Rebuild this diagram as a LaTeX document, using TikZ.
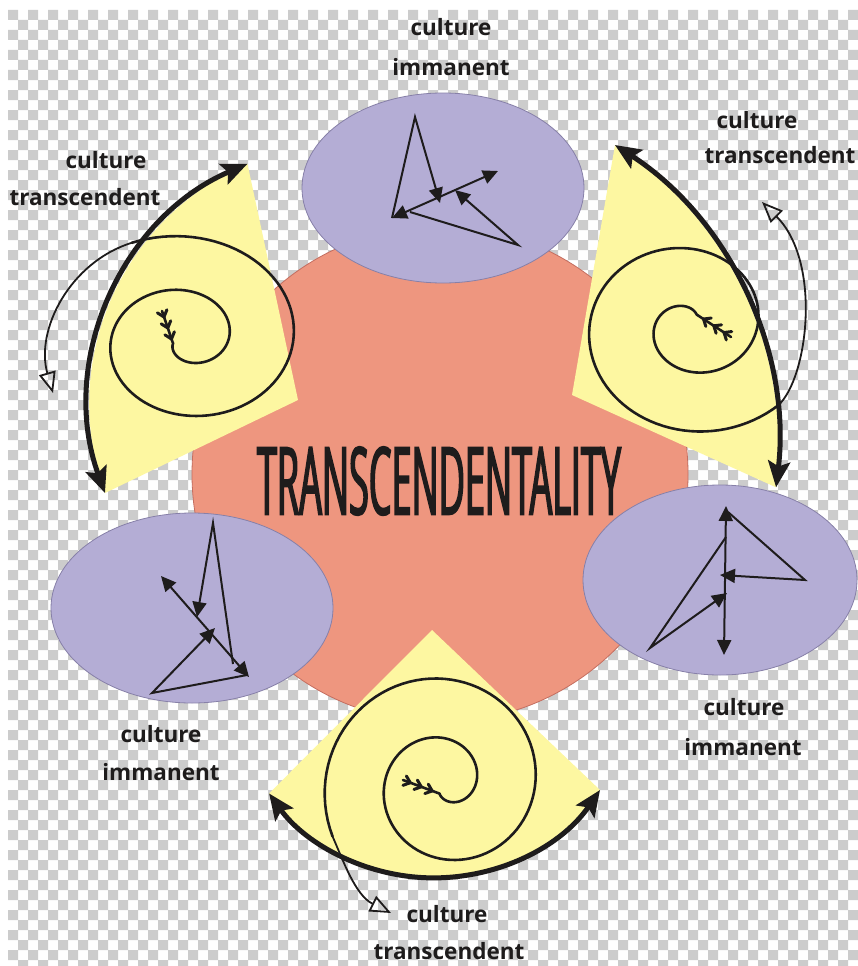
\documentclass[tikz,border=0pt]{standalone}
\usepackage{fontspec}
\usepackage{graphicx}
\setmainfont{Open Sans}
\newfontfamily\titlefont{Open Sans}[FakeStretch=0.38, FakeBold=1.6]
\usetikzlibrary{arrows.meta}
\definecolor{salmon}{RGB}{238,150,127}
\definecolor{salmonline}{RGB}{196,110,96}
\definecolor{lilac}{RGB}{180,173,213}
\definecolor{lilacline}{RGB}{135,128,168}
\definecolor{lemon}{RGB}{253,247,161}
\definecolor{checkgray}{RGB}{204,204,204}
\definecolor{ink}{RGB}{30,28,28}
\tikzset{
  lbl/.style={font=\fontsize{22.5}{38}\selectfont\bfseries, text=ink, anchor=base, inner sep=0pt},
  spiralline/.style={line width=2.6pt, draw=ink, line cap=round, line join=round},
  thinarrow/.style={line width=1.8pt, draw=ink, -{Triangle[open, length=21pt, width=17pt, line width=1.8pt]}},
  bigarrow/.style={line width=5pt, draw=ink, {Stealth[length=26pt, width=22pt, inset=5pt]}-{Stealth[length=26pt, width=22pt, inset=5pt]}},
  zig/.style={line width=2pt, draw=ink, line join=miter},
  zighead/.style={-{Triangle[length=15pt, width=14pt]}},
  zigboth/.style={{Triangle[length=15pt, width=14pt]}-{Triangle[length=15pt, width=14pt]}},
  chev/.style={line width=3pt, draw=ink, line cap=round, line join=miter},
  blob/.style={fill=lilac, draw=lilacline, line width=0.8pt},
}
\begin{document}
\begin{tikzpicture}[x=1pt, y=-1pt]
\useasboundingbox (0,0) rectangle (858,966);
% background with transparency checkerboard
\fill[white] (0,0) rectangle (858,966);
\fill[checkgray] \foreach \i in {0,...,84} { \foreach \j in {0,2,...,94} { ({8+10*\i},{10+10*\j+10*mod(\i,2)}) rectangle ++(10,10) } };

% central disc
\filldraw[fill=salmon, draw=salmonline, line width=0.8pt] (440,474) circle[radius=248];

% purple ellipses
\filldraw[blob] (443,188) ellipse[x radius=141, y radius=95];
\filldraw[blob] (720,580) ellipse[x radius=137, y radius=95];
\filldraw[blob] (192,608) ellipse[x radius=141, y radius=95];

% yellow wedges
\fill[lemon] (298,400) -- (105,493) arc[start angle=160, end angle=246.8, radius=261] -- cycle;
\fill[lemon] (572,395) -- (615,145) arc[start angle=-57.1, end angle=6.7, radius=358] -- cycle;
\fill[lemon] (432,630) -- (600,790) arc[start angle=34.4, end angle=144.4, radius=202] -- cycle;

% title
\node[inner sep=0pt, text=ink] (title) at (439,481) {\resizebox{364pt}{68pt}{\fontsize{95}{95}\titlefont TRANSCENDENTALITY}};

% zigzags: top ellipse
\draw[zig, zighead] (392,218) -- (415,117) -- (440,203);
\draw[zig, zigboth] (392,218) -- (498,171);
\draw[zig, zighead] (410,212) -- (518,245) -- (455,190);
% zigzags: right ellipse
\draw[zig, zigboth] (726,506) -- (724,655);
\draw[zig, zighead] (728,512) -- (805,580) -- (720,575);
\draw[zig, zighead] (726,537) -- (650,648) -- (727,593);
% zigzags: left ellipse
\draw[zig, zighead] (233,664) -- (213,523) -- (197,617);
\draw[zig, zigboth] (161,576) -- (249,677);
\draw[zig, zighead] (247,675) -- (152,693) -- (215,628);

% spirals
\draw[spiralline] (162,311) -- plot[domain=200:835, samples=180, variable=\t]
  ({186+1.2*(22+0.15*(\t-270))*cos(\t)}, {339.5-(22+0.15*(\t-270))*sin(\t)});
\draw[spiralline] (731,337) -- plot[domain=60:675, samples=180, variable=\t]
  ({690+1.1*(17+0.165*(\t-90))*cos(\t)}, {325-(17+0.165*(\t-90))*sin(\t)});
\draw[spiralline] (403,780) -- plot[domain=240:925, samples=180, variable=\t]
  ({445+(16+0.165*(\t-270))*cos(\t)}, {784-(16+0.165*(\t-270))*sin(\t)});

% spiral outer ends
\coordinate (tlx) at ({186+1.2*(22+0.15*565)*cos(835)}, {339.5-(22+0.15*565)*sin(835)});
\coordinate (rx) at ({690+1.1*(17+0.165*585)*cos(675)}, {325-(17+0.165*585)*sin(675)});
\coordinate (bx) at ({445+(16+0.165*655)*cos(925)}, {784-(16+0.165*655)*sin(925)});
\coordinate (tlh) at (53,393);
\coordinate (rh) at (762,202);
\coordinate (bh) at (391,913);

% fletching chevrons
\foreach \p in {(164,317),(167.8,328),(171.5,339)} \draw[chev, shift={\p}, rotate=-72] (-6,-5) -- (0,0) -- (-6,5);
\foreach \p in {(724,332.5),(713.8,325.8),(703.5,319)} \draw[chev, shift={\p}, rotate=147] (-6,-5) -- (0,0) -- (-6,5);
\foreach \p in {(410.3,782.7),(421.3,786.8),(432.2,790.9)} \draw[chev, shift={\p}, rotate=-20] (-6,-5) -- (0,0) -- (-6,5);

% thick double arrows along the wedges
\coordinate (tlA) at (105,493);
\coordinate (rA) at (615,145);
\coordinate (bA) at (600,790);
\draw[bigarrow] (tlA) arc[start angle=160, end angle=246.8, radius=261];
\draw[bigarrow] (rA) arc[start angle=-57.1, end angle=6.7, radius=358];
\draw[bigarrow] (bA) arc[start angle=34.4, end angle=144.4, radius=202];

% thin exit arrows
\draw[thinarrow] (tlx) .. controls (70,262) and (35,330) .. (tlh);
\draw[thinarrow] (rx) .. controls (808,378) and (822,262) .. (rh);
\draw[thinarrow] (bx) .. controls (343,860) and (355,895) .. (bh);

% labels
\node[lbl] (tI1) at (451,36) {culture};
\node[lbl] (tI2) at (451,75) {immanent};
\node[lbl] (lT1) at (106,168) {culture};
\node[lbl] (lT2) at (85,205) {transcendent};
\node[lbl] (rT1) at (757,128) {culture};
\node[lbl] (rT2) at (780,163) {transcendent};
\node[lbl] (rI1) at (744,715) {culture};
\node[lbl] (rI2) at (743,755) {immanent};
\node[lbl] (lI1) at (161,742) {culture};
\node[lbl] (lI2) at (161,780) {immanent};
\node[lbl] (bT1) at (447,922) {culture};
\node[lbl] (bT2) at (449,959) {transcendent};
\end{tikzpicture}
\end{document}
